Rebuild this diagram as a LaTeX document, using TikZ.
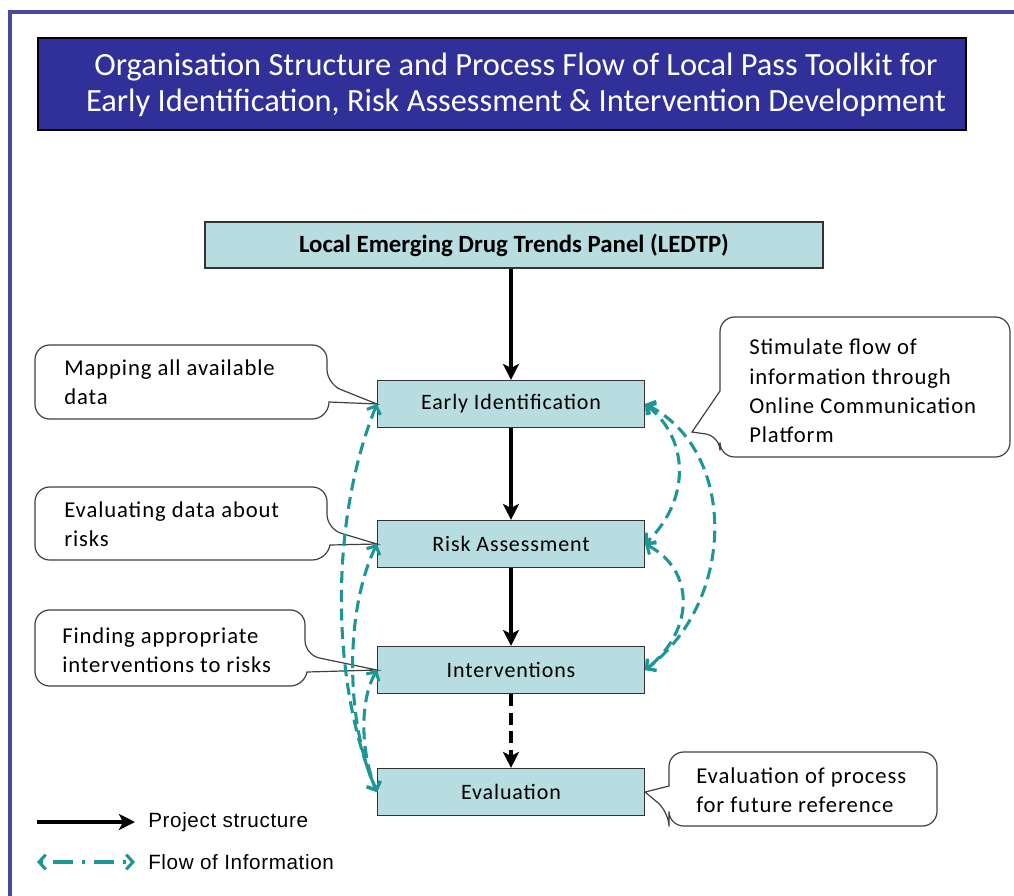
\documentclass[tikz,border=0pt]{standalone}
\usepackage{fontspec}
\setmainfont{Carlito}
\newfontfamily\spacedfont[LetterSpace=4]{Carlito}
\newfontfamily\legendfont[LetterSpace=3]{Liberation Sans}
\usetikzlibrary{arrows.meta}
\definecolor{navy}{RGB}{48,48,152}
\definecolor{framecol}{RGB}{72,72,160}
\definecolor{boxfill}{RGB}{183,221,224}
\definecolor{flowcol}{RGB}{28,150,150}
\begin{document}
\begin{tikzpicture}[x=0.75pt,y=-0.75pt,
  titlebox/.style={draw=black, line width=0.8pt, fill=navy},
  titletext/.style={text=white, align=center, inner sep=0pt, font=\fontsize{24.3}{26.5}\selectfont},
  topbox/.style={draw=black!80, line width=1.1pt, fill=boxfill, minimum width=463.5pt, minimum height=34.5pt, inner sep=0pt, font=\fontsize{18.6}{20}\selectfont\bfseries},
  procbox/.style={draw=black!80, line width=1.1pt, fill=boxfill, minimum width=200pt, minimum height=35pt, inner sep=0pt, font=\spacedfont\fontsize{16.5}{19}\selectfont},
  callout/.style={draw=black!75, line width=0.9pt, fill=white, rounded corners=11pt},
  calltext/.style={anchor=west, align=left, inner sep=0pt, font=\spacedfont\fontsize{17}{22}\selectfont},
  struct/.style={black, line width=2.4pt, -{Stealth[length=12pt,width=12pt,inset=3pt]}},
  flow/.style={flowcol, line width=2.3pt, dash pattern=on 9pt off 5pt, {Straight Barb[length=5pt,width=11pt]}-{Straight Barb[length=5pt,width=11pt]}},
  legtext/.style={anchor=west, inner sep=0pt, font=\legendfont\fontsize{15.5}{18}\selectfont}
]
\useasboundingbox (0,0) rectangle (1014,896);
\fill[white] (0,0) rectangle (1014,896);
% frame
\draw[framecol, line width=2.4pt] (1014,12) -- (10,12) -- (10,896);

% title
\draw[titlebox] (38,38) rectangle (966,130);
\node[titletext] (title) at (516,85) {Organisation Structure and Process Flow of Local Pass Toolkit for\\Early Identification, Risk Assessment \& Intervention Development};

% main boxes
\node[topbox] (ledtp) at (514,245) {Local Emerging Drug Trends Panel (LEDTP)};
\node[procbox] (ei) at (511,404) {Early Identification};
\node[procbox] (ra) at (511,544) {Risk Assessment};
\node[procbox] (int) at (511,670) {Interventions};
\node[procbox] (ev) at (511,792) {Evaluation};

\coordinate (stimtip) at (692,432);

% callouts
\draw[callout] (180,345) -- (327,345) -- (327,384) [sharp corners] -- (ei.west) -- (329,402) [rounded corners=11pt] -- (327,419) -- (35,419) -- (35,345) -- cycle;
\draw[callout] (180,487) -- (327,487) -- (327,529) [sharp corners] -- (ra.west) -- (330,545) [rounded corners=11pt] -- (327,560) -- (35,560) -- (35,487) -- cycle;
\draw[callout] (170,610) -- (305,610) -- (305,655) [sharp corners] -- (int.west) -- (307,672) [rounded corners=11pt] -- (305,686) -- (35,686) -- (35,610) -- cycle;
\draw[callout] (865,317) -- (1010,317) -- (1010,457) -- (720,457) -- (720,436) [sharp corners] -- (stimtip) -- (720,391) [rounded corners=11pt] -- (720,317) -- cycle;
\draw[callout] (800,752) -- (937,752) -- (937,826) -- (669,826) -- (669,812) [sharp corners] -- (ev.east) -- (669,786) [rounded corners=11pt] -- (669,752) -- cycle;

\node[calltext] (c1) at (64,382) {Mapping all available\\data};
\node[calltext] (c2) at (64,524) {Evaluating data about\\risks};
\node[calltext] (c3) at (62,650) {Finding appropriate\\interventions to risks};
\node[calltext] (c4) at (749,391) {Stimulate flow of\\information through\\Online Communication\\Platform};
\node[calltext] (c5) at (696,790) {Evaluation of process\\for future reference};

% structure arrows
\draw[struct] (ledtp.south -| ei.north) -- (ei.north);
\draw[struct] (ei) -- (ra);
\draw[struct] (ra) -- (int);
\draw[struct, dash pattern=on 9pt off 5pt] (int) -- (ev);

% flow of information, left
\draw[flow] (ei.west) .. controls (330,520) and (330,680) .. (ev.west);
\draw[flow] (ra.west) .. controls (345,610) and (345,720) .. (ev.west);
\draw[flow] (int.west) .. controls (360,700) and (360,750) .. (ev.west);
% right
\draw[flow] (ei.east) .. controls (690,440) and (690,500) .. (ra.east);
\draw[flow] (ei.east) .. controls (737,450) and (737,600) .. (int.east);
\draw[flow] (ra.east) .. controls (695,570) and (695,630) .. (int.east);

% legend
\coordinate (l1a) at (37,822); \coordinate (l1b) at (135,822);
\coordinate (l2a) at (37,862); \coordinate (l2b) at (135,862);
\draw[struct] (l1a) -- (l1b);
\draw[flow, dash pattern=on 2pt off 7pt on 15pt off 7pt] (l2a) -- (l2b);
\node[legtext] (lt1) at (148,822) {Project structure};
\node[legtext] (lt2) at (148,862) {Flow of Information};
\end{tikzpicture}
\end{document}
